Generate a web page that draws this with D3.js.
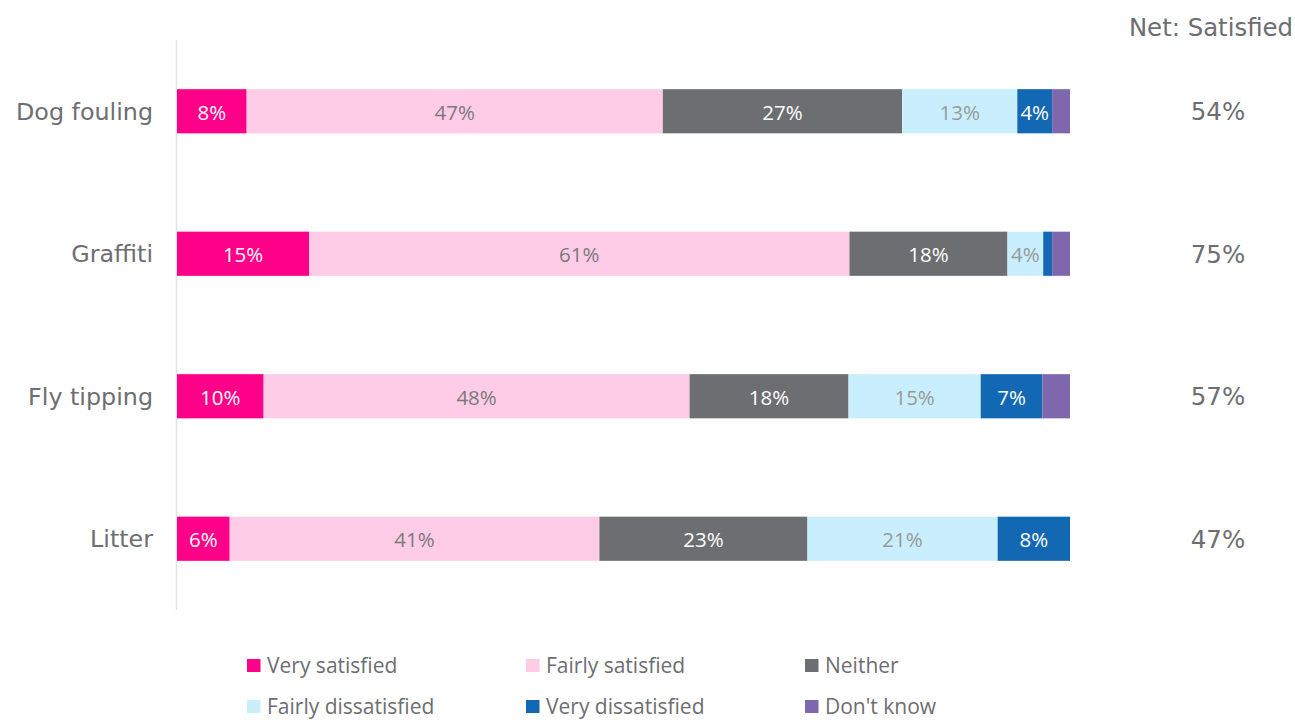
<!DOCTYPE html>
<html><head><meta charset="utf-8">
<script src="https://cdn.jsdelivr.net/npm/d3@7"></script>
<style>body{margin:0;background:#fff;}svg{display:block;}</style>
</head><body>
<svg id="chart" width="1295" height="720"></svg>
<script>
const categories = ["Dog fouling", "Graffiti", "Fly tipping", "Litter"];
const seriesNames = ["Very satisfied", "Fairly satisfied", "Neither", "Fairly dissatisfied", "Very dissatisfied", "Don't know"];
const verySatisfied = [7.8, 14.8, 9.7, 5.9];
const fairlySatisfied = [46.6, 60.5, 47.7, 41.4];
const neither = [26.8, 17.7, 17.8, 23.3];
const fairlyDissatisfied = [12.9, 4.0, 14.8, 21.3];
const veryDissatisfied = [3.9, 1.0, 6.9, 8.1];
const dontKnow = [2.0, 2.0, 3.1, 0.0];
const netSatisfied = ["54%", "75%", "57%", "47%"];
const netHeader = "Net: Satisfied";

const colors = ["#FF0088", "#FFCCE8", "#6D6E71", "#C9EFFE", "#1368B3", "#7F67AE"];
const labelColors = ["#ffffff", "#7a7a7a", "#ffffff", "#999999", "#ffffff", "#ffffff"];
const seriesValues = [verySatisfied, fairlySatisfied, neither, fairlyDissatisfied, veryDissatisfied, dontKnow];

const rows = categories.map((c, i) => {
  const r = {category: c};
  seriesNames.forEach((s, j) => r[s] = seriesValues[j][i]);
  return r;
});
const stacked = d3.stack().keys(seriesNames)(rows);

const svg = d3.select("#chart");
const x = d3.scaleLinear().domain([0, 100]).range([177, 1070]);
const y = d3.scaleBand().domain(categories).range([40, 610]).paddingInner(0.69).paddingOuter(0.345);

// axis line
svg.append("line").attr("x1", 176.5).attr("x2", 176.5).attr("y1", 40).attr("y2", 610)
  .attr("stroke", "#e3e3e3").attr("stroke-width", 1.5);

const layer = svg.append("g").selectAll("g").data(stacked).join("g")
  .attr("fill", (d, i) => colors[i]);
layer.selectAll("rect").data(d => d).join("rect")
  .attr("x", d => x(d[0]))
  .attr("width", d => Math.max(0, x(d[1]) - x(d[0])))
  .attr("y", d => y(d.data.category))
  .attr("height", y.bandwidth());

stacked.forEach((s, i) => {
  svg.append("g").selectAll("text").data(s.filter(d => d[1] - d[0] >= 3.5)).join("text")
    .attr("x", d => (x(d[0]) + x(d[1])) / 2)
    .attr("y", d => y(d.data.category) + y.bandwidth() / 2)
    .attr("dy", "0.42em")
    .attr("text-anchor", "middle")
    .attr("font-family", "'Open Sans', sans-serif")
    .attr("font-size", 20.5)
    .attr("fill", labelColors[i])
    .text(d => Math.round(d[1] - d[0]) + "%");
});

// category labels
svg.append("g").selectAll("text").data(categories).join("text")
  .attr("x", 153).attr("y", d => y(d) + y.bandwidth() / 2).attr("dy", "0.36em")
  .attr("text-anchor", "end").attr("font-family", "'DejaVu Sans', Verdana, sans-serif")
  .attr("font-size", 23.8).attr("fill", "#6D6E71").text(d => d);

// net satisfied
svg.append("text").attr("x", 1293).attr("y", 36).attr("text-anchor", "end")
  .attr("font-family", "'DejaVu Sans', Verdana, sans-serif").attr("font-size", 24.4)
  .attr("fill", "#6D6E71").text(netHeader);
svg.append("g").selectAll("text").data(categories).join("text")
  .attr("x", 1218).attr("y", d => y(d) + y.bandwidth() / 2).attr("dy", "0.36em")
  .attr("text-anchor", "middle").attr("font-family", "'DejaVu Sans', Verdana, sans-serif")
  .attr("font-size", 24.5).attr("fill", "#6D6E71")
  .text((d, i) => netSatisfied[i]);

// legend
const legendX = [247, 526, 805];
const legendY = [665.5, 706.5];
const lg = svg.append("g").selectAll("g").data(seriesNames).join("g")
  .attr("transform", (d, i) => `translate(${legendX[i % 3]},${legendY[Math.floor(i / 3)]})`);
lg.append("rect").attr("x", 0).attr("y", -6.5).attr("width", 13.5).attr("height", 13)
  .attr("fill", (d, i) => colors[i]);
lg.append("text").attr("x", 20).attr("y", 0).attr("dy", "0.36em")
  .attr("font-family", "'Open Sans', sans-serif").attr("font-size", 21)
  .attr("fill", "#6D6E71").text(d => d);
</script>
</body></html>
